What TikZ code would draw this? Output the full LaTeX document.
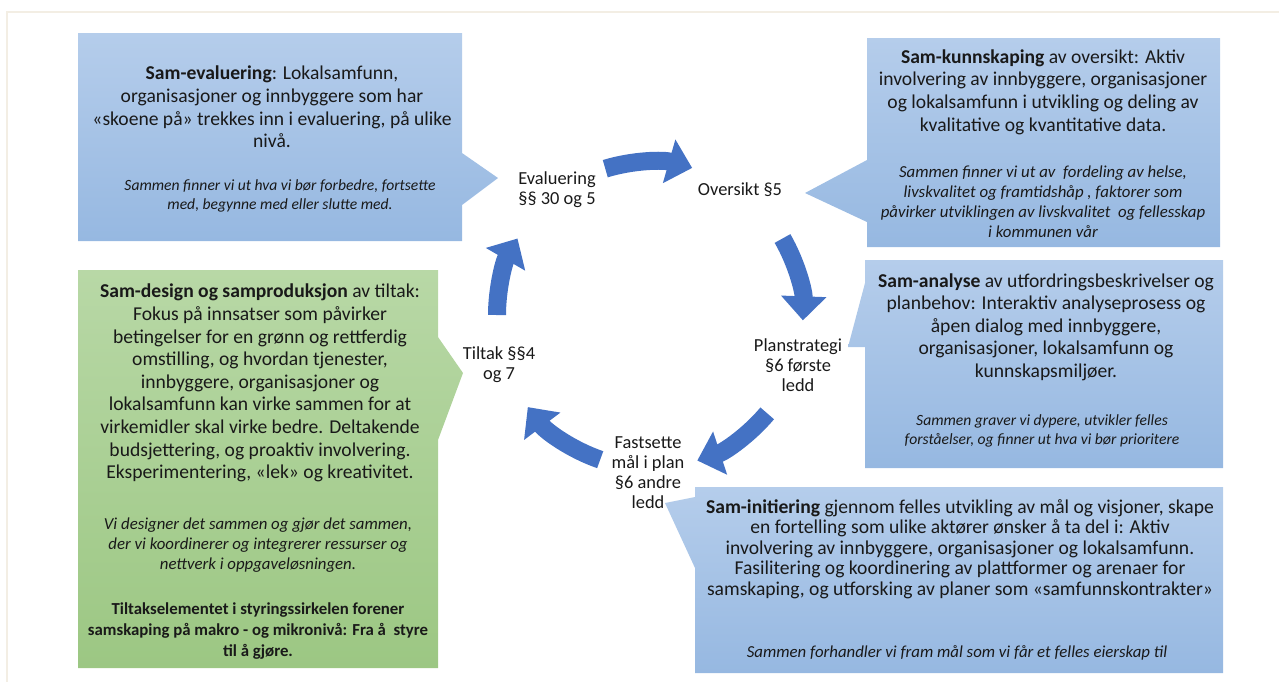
\documentclass[tikz,border=0pt]{standalone}
\usepackage{fontspec}
\setmainfont{Carlito}
\usetikzlibrary{arrows.meta,calc}

\definecolor{cyclefill}{RGB}{68,114,196}
\definecolor{bluetop}{RGB}{181,205,235}
\definecolor{bluebot}{RGB}{150,184,225}
\definecolor{greentop}{RGB}{184,216,166}
\definecolor{greenbot}{RGB}{156,199,131}
\definecolor{framecol}{RGB}{243,238,228}
\definecolor{inkcol}{RGB}{25,25,25}

\tikzset{
  bluebubble/.style={top color=bluetop, bottom color=bluebot, draw=none},
  greenbubble/.style={top color=greentop, bottom color=greenbot, draw=none},
  maintext/.style={inner sep=0pt, align=center, text=inkcol, font=\fontsize{9.8}{11.3}\selectfont},
  notetext/.style={inner sep=0pt, align=center, text=inkcol, font=\fontsize{8.4}{10}\selectfont\itshape},
  smallnote/.style={notetext, font=\fontsize{7.8}{9.3}\selectfont\itshape},
  steplabel/.style={inner sep=0pt, align=center, text=inkcol, font=\fontsize{9.2}{10}\selectfont},
  cyclearrow/.style={draw=cyclefill, line width=9pt, -{Triangle[width=22pt,length=12pt]}}
}

\begin{document}
\begin{tikzpicture}[x=0.5pt, y=-0.5pt]
  \useasboundingbox (0,0) rectangle (1279,682);
  \draw[framecol, line width=1pt] (7,682) -- (7,12) -- (1279,12);

  % bubbles
  \path[bluebubble] (78,33) -- (462,33) -- (462,153) -- (498,178) -- (462,205) -- (462,241) -- (78,241) -- cycle;
  \path[bluebubble] (867,38) -- (1220,38) -- (1220,247) -- (867,247) -- (867,222) -- (805,193) -- (867,160) -- cycle;
  \path[bluebubble] (865,260) -- (1223,260) -- (1223,468) -- (865,468) -- (865,347) -- (848,347) -- (865,283) -- cycle;
  \path[bluebubble] (695,487) -- (1223,487) -- (1223,673) -- (695,673) -- (695,568) -- (665,503) -- (695,497) -- cycle;
  \path[greenbubble] (78,270) -- (438,270) -- (438,337) -- (463,373) -- (438,440) -- (438,668) -- (78,668) -- cycle;

  % cycle
  \coordinate (c) at (650,315);
  \foreach \a/\b in {-107/-74, -30/2, 40/72, 109/143, 180/210}{
    \draw[cyclearrow] ($(c)+(\a:153)$) arc[start angle=\a, end angle=\b, radius=153];
  }
  \node[steplabel] (eval) at (557,190) {Evaluering\\§§ 30 og 5};
  \node[steplabel] (oversikt) at (740,190) {Oversikt §5};
  \node[steplabel] (plan) at (798,365) {Planstrategi\\§6 første\\ledd};
  \node[steplabel] (maal) at (648,473) {Fastsette\\mål i plan\\§6 andre\\ledd};
  \node[steplabel] (tiltak) at (499,365) {Tiltak §§4\\og 7};

  % texts
  \node[maintext] (evaltxt) at (272,107) {\textbf{Sam-evaluering}: Lokalsamfunn,\\organisasjoner og innbyggere som har\\«skoene på» trekkes inn i evaluering, på ulike\\nivå.};
  \node[smallnote] (evalnote) at (280,196) {Sammen finner vi ut hva vi bør forbedre, fortsette\\med, begynne med eller slutte med.};

  \node[maintext] (overtxt) at (1043,92) {\textbf{Sam-kunnskaping} av oversikt: Aktiv\\involvering av innbyggere, organisasjoner\\og lokalsamfunn i utvikling og deling av\\kvalitative og kvantitative data.};
  \node[notetext] (overnote) at (1043,202) {Sammen finner vi ut av\ \ fordeling av helse,\\livskvalitet og framtidshåp , faktorer som\\påvirker utviklingen av livskvalitet\ \ og fellesskap\\i kommunen vår};

  \node[maintext] (plantxt) at (1046,327) {\textbf{Sam-analyse} av utfordringsbeskrivelser og\\planbehov: Interaktiv analyseprosess og\\åpen dialog med innbyggere,\\organisasjoner, lokalsamfunn og\\kunnskapsmiljøer.};
  \node[smallnote] (plannote) at (1042,431) {Sammen graver vi dypere, utvikler felles\\forståelser, og finner ut hva vi bør prioritere};

  \node[maintext, font=\fontsize{9.8}{10.3}\selectfont] (maaltxt) at (960,549) {\textbf{Sam-initiering} gjennom felles utvikling av mål og visjoner, skape\\en fortelling som ulike aktører ønsker å ta del i: Aktiv\\involvering av innbyggere, organisasjoner og lokalsamfunn.\\Fasilitering og koordinering av plattformer og arenaer for\\samskaping, og utforsking av planer som «samfunnskontrakter»};
  \node[notetext] (maalnote) at (957,653) {Sammen forhandler vi fram mål som vi får et felles eierskap til};

  \node[maintext] (tiltaktxt) at (260,383) {\textbf{Sam-design og samproduksjon} av tiltak:\\Fokus på innsatser som påvirker\\betingelser for en grønn og rettferdig\\omstilling, og hvordan tjenester,\\innbyggere, organisasjoner og\\lokalsamfunn kan virke sammen for at\\virkemidler skal virke bedre. Deltakende\\budsjettering, og proaktiv involvering.\\Eksperimentering, «lek» og kreativitet.};
  \node[notetext] (tiltaknote) at (258,545) {Vi designer det sammen og gjør det sammen,\\der vi koordinerer og integrerer ressurser og\\nettverk i oppgaveløsningen.};
  \node[notetext, font=\fontsize{8.4}{10.4}\selectfont\bfseries] (tiltakbold) at (258,631) {Tiltakselementet i styringssirkelen forener\\samskaping på makro - og mikronivå: Fra å\ \ styre\\til å gjøre.};
\end{tikzpicture}
\end{document}
